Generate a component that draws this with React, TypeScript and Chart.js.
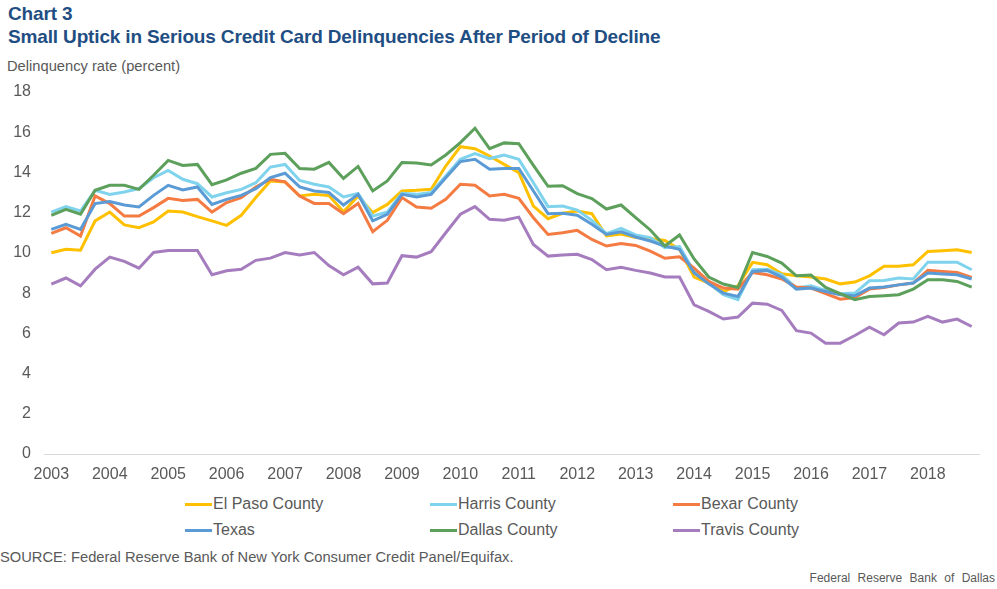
import React, { useEffect, useRef } from "react";
import { Chart, registerables } from "chart.js";

Chart.register(...registerables);

const years = ["2003","2004","2005","2006","2007","2008","2009","2010","2011","2012","2013","2014","2015","2016","2017","2018"];
const quarters = ["Q1", "Q2", "Q3", "Q4"];
const categories = years.flatMap((y) => quarters.map((q) => `${y} ${q}`));
const yTicks = [0, 2, 4, 6, 8, 10, 12, 14, 16, 18];

const elPaso = [
  10.01,10.18,10.13,11.59, 12.03,11.39,11.25,11.54, 12.08,12.03,11.8,11.59, 11.37,11.87,12.75,13.58,
  13.53,12.83,12.91,12.85, 12.05,12.83,12.0,12.41, 13.08,13.11,13.16,14.32, 15.28,15.18,14.82,14.4,
  13.99,12.33,11.7,11.97, 12.08,11.95,10.84,10.94, 10.76,10.71,10.62,10.18, 8.8,8.5,8.08,8.36,
  9.53,9.41,8.96,8.86, 8.8,8.7,8.46,8.55, 8.86,9.33,9.33,9.41, 10.07,10.11,10.16,10.02,
];
const harris = [
  12.03,12.3,12.08,13.11, 12.91,13.03,13.2,13.74, 14.1,13.66,13.44,12.78, 12.99,13.16,13.49,14.27,
  14.4,13.6,13.41,13.28, 12.78,12.95,11.83,12.03, 12.96,12.91,13.0,13.82, 14.65,14.94,14.69,14.87,
  14.65,13.49,12.3,12.33, 12.13,11.62,10.96,11.22, 10.89,10.76,10.26,10.31, 9.08,8.5,7.92,7.67,
  9.16,9.19,8.91,8.25, 8.36,8.13,7.97,8.0, 8.61,8.63,8.75,8.7, 9.54,9.54,9.54,9.16,
];
const bexar = [
  10.97,11.25,10.84,12.83, 12.45,11.83,11.83,12.25, 12.71,12.61,12.66,12.03, 12.5,12.75,13.28,13.66,
  13.53,12.83,12.46,12.45, 11.95,12.46,11.05,11.62, 12.75,12.28,12.22,12.66, 13.41,13.36,12.83,12.91,
  12.71,11.75,10.92,11.0, 11.12,10.67,10.34,10.47, 10.37,10.09,9.73,9.81, 9.24,8.58,8.25,8.2,
  9.03,8.91,8.7,8.3, 8.25,7.97,7.7,7.78, 8.2,8.28,8.41,8.5, 9.13,9.08,9.03,8.78,
];
const texas = [
  11.17,11.42,11.17,12.45, 12.55,12.38,12.28,12.86, 13.36,13.13,13.28,12.41, 12.66,12.86,13.19,13.74,
  13.96,13.28,13.08,13.0, 12.38,12.91,11.59,11.92, 12.91,12.78,12.91,13.74, 14.54,14.65,14.16,14.2,
  14.2,13.08,11.95,11.97, 11.87,11.42,10.92,11.05, 10.79,10.59,10.34,10.18, 9.0,8.46,8.0,7.83,
  9.08,9.13,8.8,8.2, 8.25,8.08,7.92,7.87, 8.25,8.3,8.41,8.5, 9.0,8.95,8.91,8.7,
];
const dallas = [
  11.87,12.17,11.92,13.11, 13.36,13.36,13.16,13.86, 14.6,14.35,14.4,13.39, 13.63,13.96,14.2,14.9,
  14.95,14.2,14.16,14.5, 13.7,14.3,13.08,13.58, 14.49,14.47,14.37,14.87, 15.48,16.2,15.18,15.47,
  15.43,14.35,13.31,13.34, 12.95,12.7,12.18,12.38, 11.75,11.14,10.34,10.89, 9.7,8.8,8.45,8.28,
  10.02,9.82,9.49,8.86, 8.9,8.28,7.97,7.67, 7.83,7.87,7.92,8.2, 8.66,8.66,8.58,8.3,
];
const travis = [
  8.45,8.75,8.36,9.19, 9.79,9.58,9.24,10.02, 10.12,10.12,10.12,8.91, 9.11,9.19,9.63,9.74,
  10.02,9.89,10.02,9.37, 8.91,9.29,8.46,8.5, 9.86,9.79,10.06,11.0, 11.92,12.3,11.67,11.62,
  11.78,10.42,9.84,9.89, 9.93,9.67,9.16,9.29, 9.13,9.0,8.8,8.8, 7.42,7.09,6.71,6.81,
  7.5,7.45,7.14,6.13, 6.01,5.51,5.51,5.89, 6.31,5.93,6.51,6.56, 6.84,6.56,6.71,6.34,
];

const seriesNames = ["El Paso County", "Harris County", "Bexar County", "Texas", "Dallas County", "Travis County"];
const seriesValues = [elPaso, harris, bexar, texas, dallas, travis];
const seriesColors = ["#FFC000", "#7FD3EC", "#F47B42", "#5B9BD5", "#5CA05C", "#A57DBE"];

const FONT = "'Liberation Sans', Arial, sans-serif";
const GREY = "#595959";

export default function App() {
  const canvasRef = useRef<HTMLCanvasElement | null>(null);

  useEffect(() => {
    const canvas = canvasRef.current;
    if (!canvas) return;
    const chart = new Chart(canvas, {
      type: "line",
      data: {
        labels: categories,
        datasets: seriesNames.map((name, i) => ({
          label: name,
          data: seriesValues[i],
          borderColor: seriesColors[i],
          backgroundColor: seriesColors[i],
          borderWidth: 3,
          pointRadius: 0,
          tension: 0,
          fill: false,
          order: seriesNames.length - i,
        })),
      },
      options: {
        animation: false,
        responsive: false,
        maintainAspectRatio: false,
        layout: { padding: { top: 12, right: 18, left: 0, bottom: 0 } },
        plugins: { legend: { display: false }, tooltip: { enabled: false }, title: { display: false } },
        scales: {
          x: {
            type: "category",
            offset: true,
            grid: { display: false, drawTicks: false },
            border: { display: true, color: "#D9D9D9", width: 1 },
            ticks: {
              autoSkip: false,
              maxRotation: 0,
              minRotation: 0,
              padding: 11,
              color: GREY,
              font: { family: FONT, size: 16 },
              callback: (_v: any, i: number) => (i % 4 === 0 ? years[i / 4] : ""),
            },
            afterFit: (s: any) => { s.height = 26; },
          },
          y: {
            min: 0,
            max: 18,
            afterBuildTicks: (s: any) => { s.ticks = yTicks.map((v) => ({ value: v })); },
            grid: { display: false, drawTicks: false },
            border: { display: false },
            ticks: {
              padding: 13,
              color: GREY,
              font: { family: FONT, size: 16 },
            },
            afterFit: (s: any) => { s.width = 44; s.paddingTop = 0; s.paddingBottom = 0; },
          },
        },
      },
    });
    return () => chart.destroy();
  }, []);

  const legendCols = [185, 430, 673];
  const legendRows = [504, 530];

  return (
    <div style={{ position: "fixed", left: 0, top: 0, width: 997, height: 589, background: "#fff", fontFamily: FONT, overflow: "hidden" }}>
      <div style={{ position: "absolute", left: 8, top: 2, color: "#1F4E83", fontWeight: "bold", fontSize: 19, lineHeight: "23px", letterSpacing: "-0.15px" }}>
        <div>Chart 3</div>
        <div>Small Uptick in Serious Credit Card Delinquencies After Period of Decline</div>
      </div>
      <div style={{ position: "absolute", left: 7, top: 57, color: GREY, fontSize: 14.7, lineHeight: "18px", whiteSpace: "nowrap" }}>
        Delinquency rate (percent)
      </div>
      <canvas ref={canvasRef} width={997} height={400} style={{ position: "absolute", left: 0, top: 80, width: 997, height: 400 }} />
      {seriesNames.map((name, i) => {
        const col = i % 3;
        const row = Math.floor(i / 3);
        return (
          <div key={name} style={{ position: "absolute", left: legendCols[col], top: legendRows[row] - 10, height: 20, display: "flex", alignItems: "center", color: GREY, fontSize: 16, whiteSpace: "nowrap" }}>
            <span style={{ display: "inline-block", width: 27, height: 3, background: seriesColors[i], marginRight: 1 }} />
            <span>{name}</span>
          </div>
        );
      })}
      <div style={{ position: "absolute", left: 0, top: 548, color: GREY, fontSize: 14.7, lineHeight: "18px", whiteSpace: "nowrap" }}>
        SOURCE: Federal Reserve Bank of New York Consumer Credit Panel/Equifax.
      </div>
      <div style={{ position: "absolute", right: 2, top: 570, color: GREY, fontSize: 12, lineHeight: "16px", whiteSpace: "nowrap", wordSpacing: "4px" }}>
        Federal Reserve Bank of Dallas
      </div>
    </div>
  );
}
